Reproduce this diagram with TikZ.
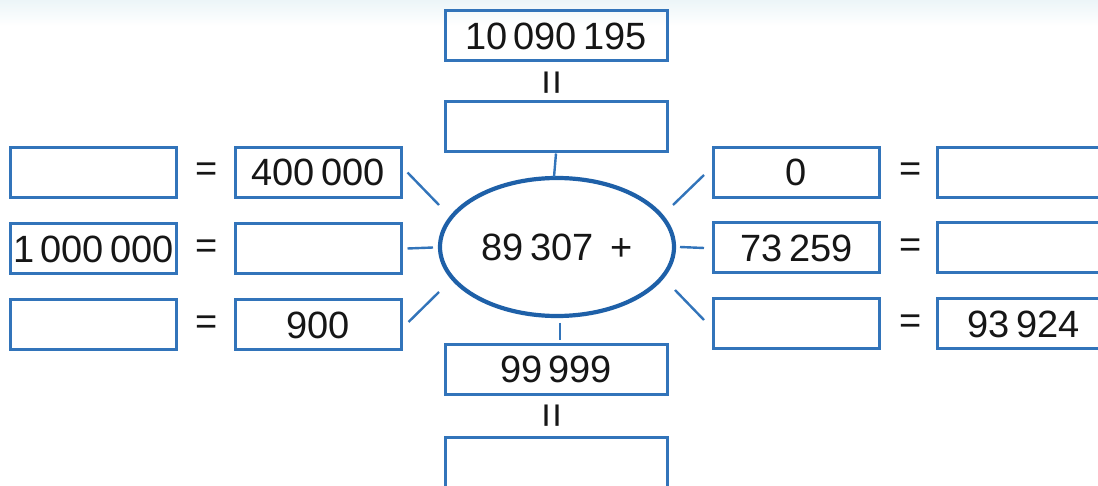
\documentclass[tikz,border=0pt]{standalone}
\usepackage{fontspec}
\setmainfont{Liberation Sans}
\usetikzlibrary{shapes.geometric,calc}
\definecolor{boxblue}{RGB}{50,116,186}
\definecolor{ellblue}{RGB}{30,96,168}
\definecolor{topband}{RGB}{236,245,248}
\definecolor{numink}{RGB}{22,22,22}
\begin{document}
\begin{tikzpicture}[x=1pt,y=-1pt,
  numfont/.style={font=\fontsize{38}{40}\selectfont, text=numink},
  blank/.style={draw=boxblue, line width=3pt, minimum height=50pt, inner sep=0pt, numfont},
  narrowbox/.style={blank, minimum width=166pt},
  widebox/.style={blank, minimum width=222pt},
  eqsign/.style={numfont, inner sep=0pt},
  vereq/.style={font=\fontsize{44}{46}\selectfont, text=numink, rotate=90, inner sep=0pt},
  spoke/.style={draw=boxblue, line width=2.4pt},
  hub/.style={ellipse, draw=ellblue, line width=4.2pt, minimum width=234pt, minimum height=138pt, inner sep=0pt, numfont}
]
\useasboundingbox (0,0) rectangle (1098,486);
\fill[white] (0,0) rectangle (1098,486);
\shade[top color=topband, bottom color=white] (0,0) rectangle (1098,26);

% centre
\node[hub] (hub) at (557,247) {89\,307 \,+};

% vertical column
\node[widebox] (t1) at (556,36) {10\,090\,195};
\node[vereq] (e1) at (556,83) {=};
\node[widebox] (t2) at (556,127) {};
\node[widebox] (b1) at (556,369.5) {99\,999};
\node[vereq] (e2) at (556,416) {=};
\node[widebox] (b2) at (556,462) {};

% left side
\node[narrowbox] (l11) at (93.5,172.5) {};
\node[eqsign] (le1) at (207,172.5) {=};
\node[narrowbox] (l12) at (318,172.5) {400\,000};
\node[narrowbox] (l21) at (93.5,249) {1\,000\,000};
\node[eqsign] (le2) at (207,249) {=};
\node[narrowbox] (l22) at (318,249) {};
\node[narrowbox] (l31) at (93.5,325) {};
\node[eqsign] (le3) at (207,325) {=};
\node[narrowbox] (l32) at (318,325) {900};

% right side
\node[narrowbox] (r11) at (796.5,172.5) {0};
\node[eqsign] (re1) at (911,172.5) {=};
\node[narrowbox, minimum width=172pt] (r12) at (1023.5,172.5) {};
\node[narrowbox] (r21) at (796.5,248) {73\,259};
\node[eqsign] (re2) at (911,248) {=};
\node[narrowbox, minimum width=172pt] (r22) at (1023.5,248) {};
\node[narrowbox] (r31) at (796.5,324) {};
\node[eqsign] (re3) at (911,324) {=};
\node[narrowbox, minimum width=172pt] (r32) at (1023.5,324) {93\,924};

% spokes
\draw[spoke] (t2.south) -- ($(hub.center)+(-3,-70)$);
\draw[spoke] ($(b1.north)+(4,-20)$) -- ($(b1.north)+(4,-3)$);
\draw[spoke] ($(l12.east)+(5,0)$) -- ($(hub.center)+(-118,-42)$);
\draw[spoke] ($(l22.east)+(5,-0.5)$) -- ($(hub.center)+(-124,0.5)$);
\draw[spoke] ($(l32.east)+(6,-3)$) -- ($(hub.center)+(-118,45)$);
\draw[spoke] ($(r11.west)+(-8,2.5)$) -- ($(hub.center)+(116,-42)$);
\draw[spoke] ($(r21.west)+(-8,0)$) -- ($(hub.center)+(123,0)$);
\draw[spoke] ($(r31.west)+(-8,-4)$) -- ($(hub.center)+(118,43)$);
\end{tikzpicture}
\end{document}
